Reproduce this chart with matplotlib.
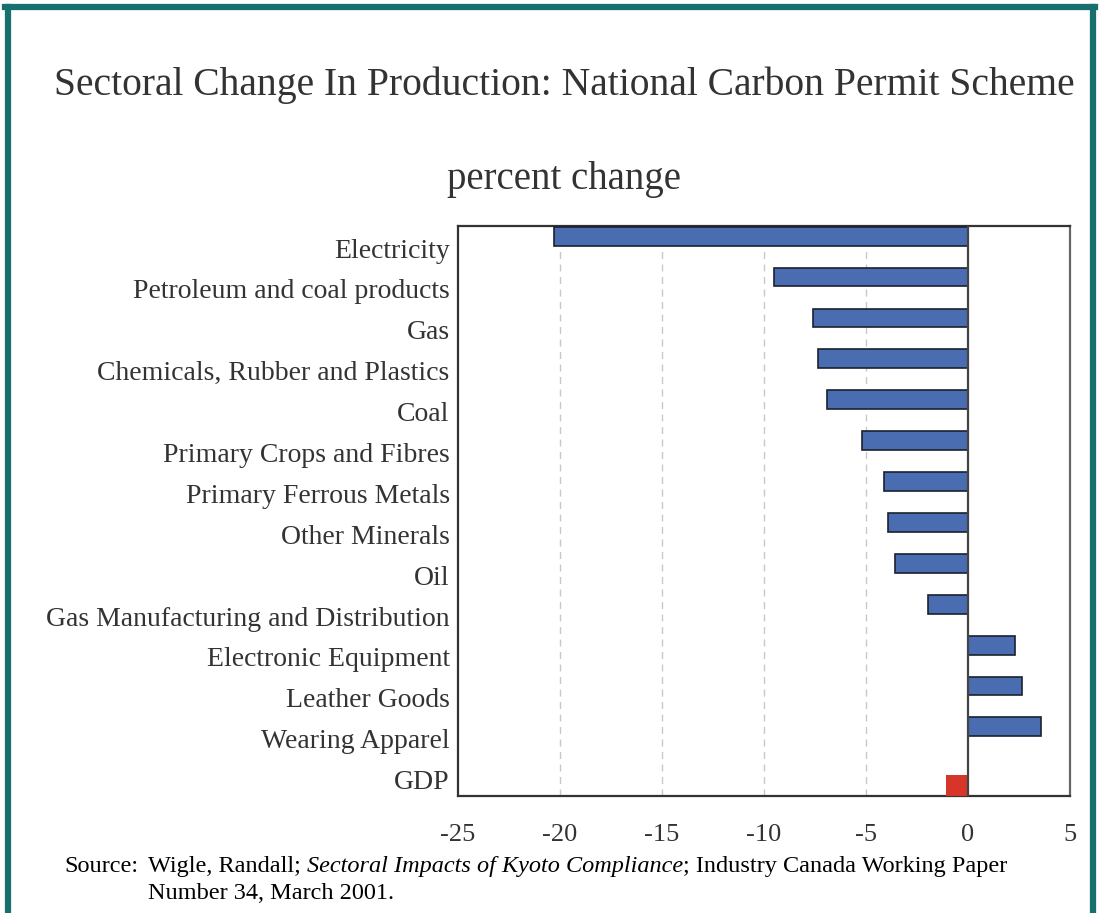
import numpy as np
import matplotlib.pyplot as plt
from matplotlib.lines import Line2D

# data
sectors = ["Electricity", "Petroleum and coal products", "Gas",
           "Chemicals, Rubber and Plastics", "Coal", "Primary Crops and Fibres",
           "Primary Ferrous Metals", "Other Minerals", "Oil",
           "Gas Manufacturing and Distribution", "Electronic Equipment",
           "Leather Goods", "Wearing Apparel"]
changes = [-20.3, -9.5, -7.6, -7.35, -6.9, -5.2, -4.1, -3.9, -3.6, -1.95, 2.3, 2.65, 3.6]
gdp_label = "GDP"
gdp_change = -1.1
xticks = [-25, -20, -15, -10, -5, 0, 5]

plt.rcParams['font.family'] = ['Liberation Serif', 'DejaVu Serif']

fig = plt.figure(figsize=(11, 9.13), dpi=100)
W, H = 1100, 913
ax = fig.add_axes([458 / W, 1 - 796 / H, (1070 - 458) / W, (796 - 226) / H])

n = len(sectors)
pos = np.arange(n)
ax.barh(pos - 0.29, changes, height=0.46, color='#4a6cb0', edgecolor='#1c2030',
        linewidth=1.2, zorder=3)
ax.barh([n + 0.15], [gdp_change], height=0.54, color='#d8352a', edgecolor='none', zorder=3)

ax.set_yticks(list(pos) + [n])
ax.set_yticklabels(sectors + [gdp_label])
ax.set_ylim(13.4, -0.538)
ax.set_xlim(-25, 5)
ax.set_xticks(xticks)
ax.set_xticklabels([str(t) for t in xticks])
ax.tick_params(axis='y', length=0, labelsize=20, colors='#333333', pad=6)
ax.tick_params(axis='x', length=0, labelsize=19, colors='#333333', pad=20)

for t in [-20, -15, -10, -5]:
    ax.axvline(t, color='#c8c8c8', linestyle=(0, (5, 4)), linewidth=1, zorder=1)
ax.axvline(0, color='#444444', linewidth=1.6, zorder=4)

for s in ['left', 'bottom', 'top']:
    ax.spines[s].set_color('#333333')
    ax.spines[s].set_linewidth(1.6)
ax.spines['right'].set_color('#666666')
ax.spines['right'].set_linewidth(1.6)

fig.text(564 / W, 1 - 85 / H, "Sectoral Change In Production: National Carbon Permit Scheme",
         ha='center', va='center', fontsize=28.5, color='#333333')
fig.text(564 / W, 1 - 180 / H, "percent change", ha='center', va='center',
         fontsize=28, color='#333333')

# source note, with the italic title in the middle
r = fig.canvas.get_renderer()
fs = 17.5
y1 = 1 - 866 / H
fig.text(64 / W, y1, "Source:", fontsize=fs, va='center', color='black')
x = 148
pieces = [("Wigle, Randall; ", 'normal'),
          ("Sectoral Impacts of Kyoto Compliance", 'italic'),
          ("; Industry Canada Working Paper", 'normal')]
for txt, st in pieces:
    t = fig.text(x / W, y1, txt, fontsize=fs, style=st, va='center', color='black')
    x = t.get_window_extent(renderer=r).x1
fig.text(148 / W, 1 - 893 / H, "Number 34, March 2001.", fontsize=fs, va='center',
         color='black')

# teal frame round the picture
teal = '#17706e'
fig.add_artist(Line2D([7.5 / W, 7.5 / W], [0, 1 - 7.5 / H], color=teal, linewidth=4.5))
fig.add_artist(Line2D([5 / W, 1095 / W], [1 - 7.5 / H, 1 - 7.5 / H], color=teal, linewidth=4.5))
fig.add_artist(Line2D([1092.5 / W, 1092.5 / W], [0, 1 - 7.5 / H], color=teal, linewidth=4.5))

fig.savefig("out.png", dpi=100)
